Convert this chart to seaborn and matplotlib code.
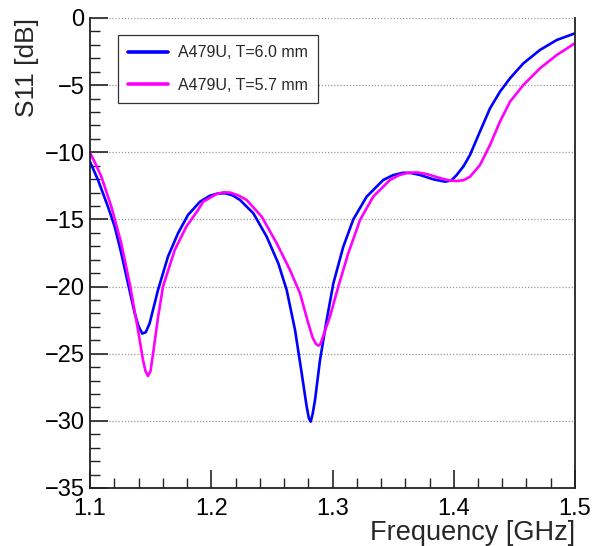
"""
S11 reflection vs frequency for two A479U thicknesses.
"""

import numpy as np
import pandas as pd
import matplotlib
matplotlib.use('Agg')
import matplotlib.pyplot as plt
from matplotlib.ticker import MultipleLocator
import seaborn as sns

# values
freq_t60 = [1.1000, 1.1066, 1.1148, 1.1204, 1.1258, 1.1313, 1.1369, 1.1400, 1.1431,
            1.1460, 1.1492, 1.1561, 1.1643, 1.1726, 1.1808, 1.1907, 1.1990, 1.2050,
            1.2113, 1.2175, 1.2237, 1.2347, 1.2457, 1.2553, 1.2622, 1.2691, 1.2746,
            1.2787, 1.2805, 1.2820, 1.2836, 1.2856, 1.2897, 1.2952, 1.3007, 1.3089,
            1.3172, 1.3282, 1.3419, 1.3500, 1.3584, 1.3650, 1.3722, 1.3831, 1.3928,
            1.3980, 1.4024, 1.4080, 1.4134, 1.4216, 1.4299, 1.4381, 1.4464, 1.4574,
            1.4711, 1.4849, 1.5000]
s11_t60 = [-10.7, -12.06, -14.05, -15.54, -17.52, -19.76, -21.99, -22.95, -23.5,
           -23.4, -22.73, -20.25, -17.77, -16.03, -14.67, -13.68, -13.23, -13.08,
           -13.05, -13.2, -13.55, -14.54, -16.28, -18.27, -20.25, -23.23, -26.46,
           -28.94, -29.8, -30.06, -29.5, -28.44, -25.47, -22.49, -19.76, -17.03,
           -14.99, -13.3, -12.06, -11.7, -11.52, -11.55, -11.69, -12.01, -12.19,
           -12.1, -11.69, -11.05, -10.2, -8.46, -6.73, -5.49, -4.49, -3.38,
           -2.38, -1.64, -1.14]

freq_t57 = [1.1000, 1.1045, 1.1093, 1.1176, 1.1258, 1.1327, 1.1396, 1.1437, 1.1458,
            1.1478, 1.1499, 1.1520, 1.1561, 1.1602, 1.1699, 1.1794, 1.1891, 1.1934,
            1.2045, 1.2100, 1.2155, 1.2220, 1.2292, 1.2416, 1.2540, 1.2649, 1.2732,
            1.2800, 1.2836, 1.2862, 1.2883, 1.2900, 1.2930, 1.2979, 1.3048, 1.3130,
            1.3227, 1.3336, 1.3474, 1.3550, 1.3625, 1.3700, 1.3777, 1.3914, 1.3970,
            1.4024, 1.4080, 1.4134, 1.4216, 1.4299, 1.4381, 1.4464, 1.4574, 1.4711,
            1.4849, 1.5000]
s11_t57 = [-10.03, -10.85, -11.8, -14.05, -16.78, -19.76, -23.23, -25.47, -26.3,
           -26.66, -26.3, -25.0, -22.3, -20.0, -17.27, -15.54, -14.3, -13.68,
           -13.1, -12.98, -13.0, -13.2, -13.55, -14.79, -16.78, -18.76, -20.5,
           -22.73, -23.8, -24.25, -24.4, -24.3, -23.5, -22.24, -20.0, -17.52,
           -15.04, -13.3, -12.06, -11.7, -11.52, -11.5, -11.62, -11.99, -12.1,
           -12.14, -12.08, -11.82, -10.95, -9.46, -7.72, -6.23, -4.99, -3.75,
           -2.76, -1.88]

labels = ['A479U, T=6.0 mm', 'A479U, T=5.7 mm']
colors = ['#0000ff', '#ff00ff']

df = pd.concat([
    pd.DataFrame({'freq': freq_t60, 's11': s11_t60, 'sample': labels[0]}),
    pd.DataFrame({'freq': freq_t57, 's11': s11_t57, 'sample': labels[1]}),
])

sns.set_style('white')
plt.rcParams['font.family'] = ['Liberation Sans', 'DejaVu Sans']

fig = plt.figure(figsize=(5.94, 5.46), dpi=100)
ax = fig.add_axes([90 / 594, 1 - 488 / 546, 485 / 594, 470 / 546])

sns.lineplot(data=df, x='freq', y='s11', hue='sample', palette=colors,
             estimator=None, sort=False, linewidth=1.9, ax=ax)

ax.set_xlim(1.1, 1.5)
ax.set_ylim(-35, 0)
ax.xaxis.set_major_locator(MultipleLocator(0.1))
ax.xaxis.set_minor_locator(MultipleLocator(0.02))
ax.yaxis.set_major_locator(MultipleLocator(5))
ax.yaxis.set_minor_locator(MultipleLocator(1))
ax.set_xticks([1.1, 1.2, 1.3, 1.4, 1.5])
ax.set_xticklabels(['1.1', '1.2', '1.3', '1.4', '1.5'])
ax.tick_params(which='major', direction='in', length=13, width=1.2, labelsize=17,
               left=True, bottom=True, top=False, right=False,
               colors='#222222', labelcolor='black')
ax.tick_params(which='minor', direction='in', length=7, width=1.0,
               left=True, bottom=True, top=False, right=False, colors='#222222')
ax.tick_params(axis='x', which='major', pad=7)
ax.tick_params(axis='y', which='major', pad=4)
ax.yaxis.grid(True, which='major', linestyle=(0, (1, 1.5)), color='#999999', linewidth=0.9)
ax.xaxis.grid(False)

for side in ['left', 'bottom', 'right']:
    ax.spines[side].set_color('#222222')
    ax.spines[side].set_linewidth(1.3)
ax.spines['top'].set_visible(False)

ax.set_xlabel('Frequency [GHz]', fontsize=19.5, loc='right', labelpad=0)
ax.set_ylabel('S11 [dB]', fontsize=19, loc='top', labelpad=4)

leg = ax.legend(loc='upper left', bbox_to_anchor=(0.0577, 0.9638), borderaxespad=0,
                fontsize=11.5, frameon=True, fancybox=False, edgecolor='black',
                handlelength=2.5, handletextpad=0.6, labelspacing=1.1,
                borderpad=0.65, title=None)
leg.get_frame().set_linewidth(0.9)
for line in leg.get_lines():
    line.set_linewidth(2.6)

fig.savefig('out.png', dpi=100)
